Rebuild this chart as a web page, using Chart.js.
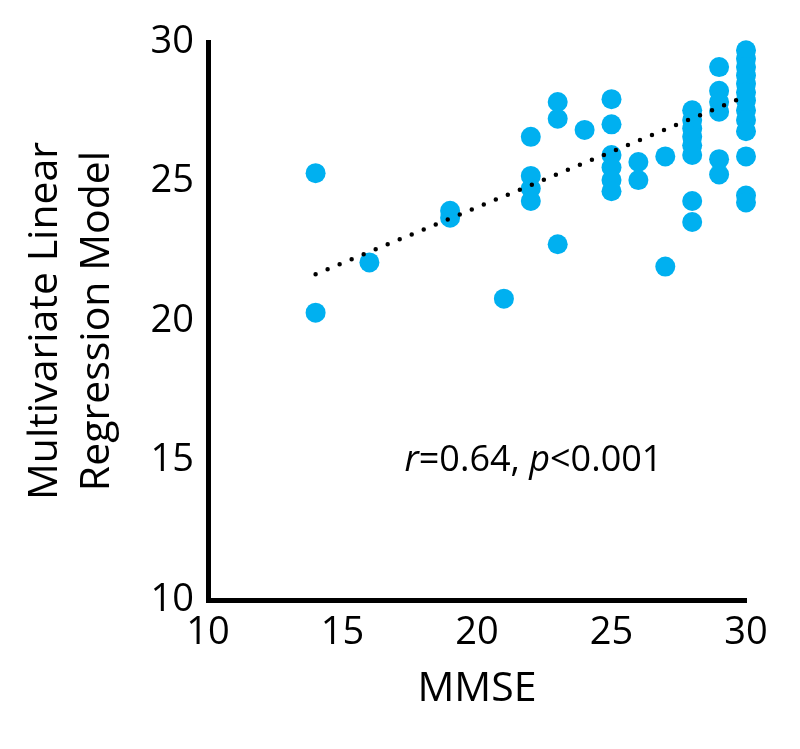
<!DOCTYPE html>
<html>
<head>
<meta charset="utf-8">
<script src="https://cdn.jsdelivr.net/npm/chart.js@4.4.1/dist/chart.umd.min.js"></script>
<style>
  html, body { margin: 0; padding: 0; background: #fff; }
  #wrap { width: 800px; height: 749px; position: relative; }
</style>
</head>
<body>
<div id="wrap"><canvas id="chart"></canvas></div>
<script>
// MMSE score (x) and model estimate (y) per subject
const mmse = [
  14, 14,
  16,
  19, 19,
  21,
  22, 22, 22, 22,
  23, 23, 23,
  24,
  25, 25, 25, 25, 25, 25,
  26, 26,
  27, 27,
  28, 28, 28, 28, 28, 28, 28, 28,
  29, 29, 29, 29, 29, 29,
  30, 30, 30, 30, 30, 30, 30, 30, 30, 30, 30, 30, 30
];
const model = [
  25.3, 20.3,
  22.1,
  23.95, 23.7,
  20.8,
  26.6, 25.2, 24.75, 24.3,
  27.85, 27.25, 22.75,
  26.85,
  27.95, 27.05, 25.95, 25.5, 25.05, 24.65,
  25.7, 25.05,
  25.9, 21.95,
  27.55, 27.2, 26.9, 26.6, 26.3, 25.95, 24.3, 23.55,
  29.1, 28.25, 27.85, 27.5, 25.8, 25.25,
  29.7, 29.4, 29.1, 28.8, 28.5, 28.2, 27.9, 27.55, 27.2, 26.8, 25.9, 24.5, 24.25
];
// linear trendline end points
const trendX = [14, 30];
const trendY = [21.68, 28.06];

const xTicks = [10, 15, 20, 25, 30];
const yTicks = [10, 15, 20, 25, 30];
const annotation = { x: 22.1, y: 15, r: "0.64", p: "0.001" };

const FONT = "'Open Sans', 'Noto Sans', sans-serif";
const BLUE = "#00b0f0";

// draws "r=0.64, p<0.001" with italic r and p
const statsText = {
  id: "statsText",
  afterDatasetsDraw(chart) {
    const ctx = chart.ctx;
    const cx = chart.scales.x.getPixelForValue(annotation.x);
    const cy = chart.scales.y.getPixelForValue(annotation.y);
    const parts = [
      ["r", true], ["=" + annotation.r + ", ", false],
      ["p", true], ["<" + annotation.p, false]
    ];
    const fontFor = it => (it ? "italic " : "") + "36px " + FONT;
    ctx.save();
    let total = 0;
    parts.forEach(([s, it]) => { ctx.font = fontFor(it); total += ctx.measureText(s).width; });
    let x = cx - total / 2;
    ctx.fillStyle = "#000";
    ctx.textBaseline = "middle";
    ctx.textAlign = "left";
    parts.forEach(([s, it]) => {
      ctx.font = fontFor(it);
      ctx.fillText(s, x, cy);
      x += ctx.measureText(s).width;
    });
    ctx.restore();
  }
};

new Chart(document.getElementById("chart").getContext("2d"), {
  type: "scatter",
  data: {
    datasets: [
      {
        label: "Subjects",
        data: mmse.map((v, i) => ({ x: v, y: model[i] })),
        backgroundColor: BLUE,
        borderColor: BLUE,
        borderWidth: 0,
        pointRadius: 10,
        pointHoverRadius: 10,
        clip: false,
        order: 2
      },
      {
        label: "Trend",
        type: "line",
        data: trendX.map((v, i) => ({ x: v, y: trendY[i] })),
        borderColor: "#000",
        borderWidth: 4.5,
        borderDash: [0, 13],
        borderCapStyle: "round",
        pointRadius: 0,
        fill: false,
        order: 1
      }
    ]
  },
  options: {
    responsive: true,
    maintainAspectRatio: false,
    animation: false,
    layout: { padding: { left: 0, right: 54, top: 42, bottom: 0 } },
    plugins: { legend: { display: false }, tooltip: { enabled: false } },
    scales: {
      x: {
        type: "linear",
        min: 10, max: 30,
        afterBuildTicks: s => { s.ticks = xTicks.map(v => ({ value: v })); },
        afterFit: s => { s.height = 149; },
        grid: { display: false, drawTicks: false },
        border: { color: "#000", width: 5 },
        ticks: { color: "#000", padding: 10, font: { family: FONT, size: 38 } },
        title: {
          display: true, text: "MMSE", color: "#000",
          font: { family: FONT, size: 41 },
          padding: { top: 0, bottom: 35 }
        }
      },
      y: {
        type: "linear",
        min: 10, max: 30,
        afterBuildTicks: s => { s.ticks = yTicks.map(v => ({ value: v })); },
        afterFit: s => { s.width = 208; },
        grid: { display: false, drawTicks: false },
        border: { color: "#000", width: 5 },
        ticks: { color: "#000", padding: 14, font: { family: FONT, size: 38 } },
        title: {
          display: true,
          text: ["Multivariate Linear", "Regression Model"],
          color: "#000",
          font: { family: FONT, size: 41, lineHeight: 1.25 },
          padding: { top: 20, bottom: 0 }
        }
      }
    }
  },
  plugins: [statsText]
});
</script>
</body>
</html>
